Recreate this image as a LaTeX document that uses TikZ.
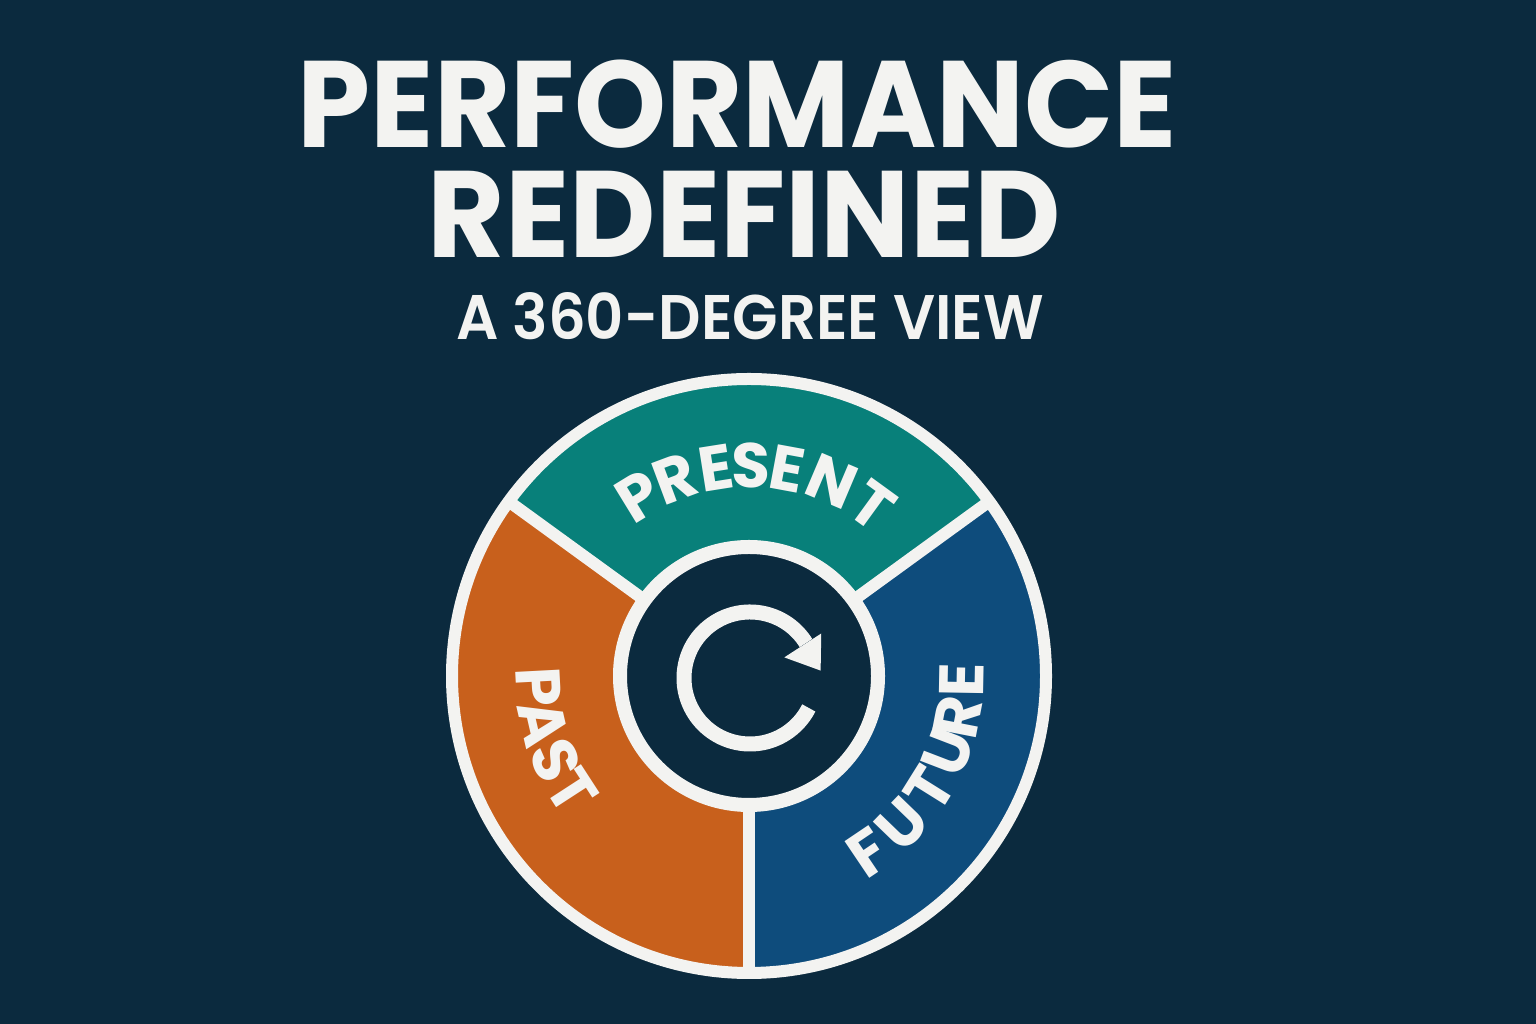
\documentclass[tikz,border=0pt]{standalone}
\usepackage{fontspec}
\setmainfont{Poppins}
\newfontfamily\semifont{Poppins}[UprightFont={* SemiBold}]
\definecolor{bgc}{HTML}{0B2A3E}
\definecolor{tealc}{HTML}{08807A}
\definecolor{orangec}{HTML}{C8601C}
\definecolor{bluec}{HTML}{0E4C7C}
\definecolor{whitec}{HTML}{F3F3F1}
\begin{document}
\begin{tikzpicture}[x=1pt,y=1pt,
  titletext/.style={text=whitec, font=\bfseries\fontsize{123}{123}\selectfont, inner sep=0pt, anchor=base},
  subtext/.style={text=whitec, font=\semifont\fontsize{63}{63}\selectfont, inner sep=0pt, anchor=base},
  seglabel/.style={text=whitec, font=\bfseries\fontsize{63}{63}\selectfont, inner sep=0pt, anchor=center},
  ringline/.style={draw=whitec, line width=12pt},
  ]
\fill[bgc] (0,0) rectangle (1536,1024);
\useasboundingbox (0,0) rectangle (1536,1024);

% titles
\node[titletext, xscale=0.952] (t1) at (737.5,876) {PERFORMANCE};
\node[titletext, xscale=0.967] (t2) at (744.5,766) {REDEFINED};
\node[subtext, xscale=0.94] (t3) at (750,684) {A 360-DEGREE VIEW};

% wheel
\begin{scope}[shift={(749,348)}]
  \fill[orangec] (0,0) -- (144:297) arc[start angle=144,end angle=270,radius=297] -- cycle;
  \fill[tealc] (0,0) -- (36:297) arc[start angle=36,end angle=144,radius=297] -- cycle;
  \fill[bluec] (0,0) -- (270:297) arc[start angle=270,end angle=396,radius=297] -- cycle;
  \draw[ringline] (0,0) circle[radius=297];
  \foreach \a in {36,144,270} \draw[ringline] (\a:129) -- (\a:297);
  \fill[bgc] (0,0) circle[radius=129];
  \draw[draw=whitec, line width=14pt] (0,0) circle[radius=129];
  % labels
  \foreach \l/\a [count=\i] in {P/121.5,R/110.5,E/99,S/89.5,E/79.5,N/67,T/54}
    \node[seglabel, rotate=\a-90] (pres\i) at (\a:211) {\l};
  \foreach \l/\a [count=\i] in {P/183,A/193,S/203.5,T/213}
    \node[seglabel, rotate=\a+90] (past\i) at (\a:211) {\l};
  \foreach \l/\a [count=\i] in {F/-56,U/-44,T/-32,U/-21,R/-11,E/-1}
    \node[seglabel, rotate=\a+90] (fut\i) at (\a:213) {\l};
\end{scope}

% refresh icon
\begin{scope}[shift={(750,346)}]
  \draw[whitec, line width=15pt] (32:66) arc[start angle=32,end angle=333,radius=66];
  \fill[whitec] (32:84) -- (31:40) -- (6:71) -- cycle;
\end{scope}
\end{tikzpicture}
\end{document}
